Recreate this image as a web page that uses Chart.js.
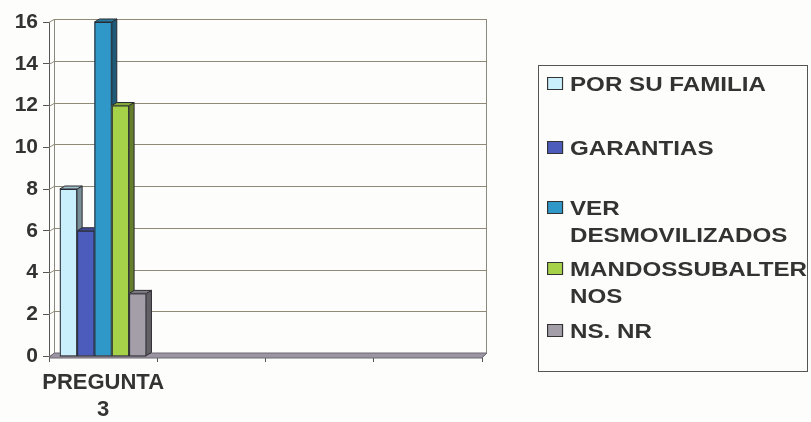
<!DOCTYPE html>
<html><head><meta charset="utf-8">
<script src="https://cdn.jsdelivr.net/npm/chart.js@4"></script>
<style>
html,body{margin:0;padding:0;background:#fdfdfb;}
#wrap{position:relative;width:811px;height:422px;overflow:hidden;}
#chart{position:absolute;left:0;top:0;}
#legend{position:absolute;left:538px;top:65px;width:270px;height:307px;border:1px solid #555;box-sizing:border-box;font:bold 21px "Liberation Sans",Arial,sans-serif;color:#333;}
.item{position:absolute;left:8px;transform:scaleX(1.15);transform-origin:0 0;white-space:pre;line-height:27px;}
.mk{position:absolute;left:0;top:7px;width:12px;height:11px;border:1px solid #333;}
.tx{position:absolute;left:20px;top:0;}
</style>
</head><body>
<div id="wrap">
<canvas id="chart" width="811" height="422"></canvas>
<div id="legend"></div>
</div>
<script>
const categories = ['PREGUNTA 3', '', '', ''];
const seriesNames = ['POR SU FAMILIA', 'GARANTIAS', 'VER\nDESMOVILIZADOS', 'MANDOSSUBALTER\nNOS', 'NS. NR'];
const porSuFamilia = [8, null, null, null];
const garantias = [6, null, null, null];
const verDesmovilizados = [16, null, null, null];
const mandosSubalternos = [12, null, null, null];
const nsNr = [3, null, null, null];
const yTickValues = [0, 2, 4, 6, 8, 10, 12, 14, 16];

const seriesValues = [porSuFamilia, garantias, verDesmovilizados, mandosSubalternos, nsNr];
const seriesColors = ['#c8effb', '#4b5cbc', '#2f98c8', '#a6d24a', '#a39ea8'];
const legendTops = [4, 68, 128, 189, 251];

// legend
const lg = document.getElementById('legend');
seriesNames.forEach((n, i) => {
  const d = document.createElement('div');
  d.className = 'item';
  d.style.top = legendTops[i] + 'px';
  const m = document.createElement('span');
  m.className = 'mk'; m.style.background = seriesColors[i];
  const t = document.createElement('span');
  t.className = 'tx'; t.textContent = n;
  d.appendChild(m); d.appendChild(t);
  lg.appendChild(d);
});

function shade(hex, f) {
  const n = parseInt(hex.slice(1), 16);
  const r = Math.round(((n >> 16) & 255) * f), g = Math.round(((n >> 8) & 255) * f), b = Math.round((n & 255) * f);
  return `rgb(${r},${g},${b})`;
}
const DX = 5, DY = 3;
const FONT = {family: '"Liberation Sans", Arial, sans-serif', size: 21, weight: 'bold'};
const XFONT = {family: '"Liberation Sans", Arial, sans-serif', size: 22, weight: 'bold'};

const threeD = {
  id: 'threeD',
  beforeDatasetsDraw(chart) {
    const ctx = chart.ctx, ca = chart.chartArea, y = chart.scales.y;
    ctx.save();
    ctx.strokeStyle = '#8a8a80'; ctx.lineWidth = 1;
    ctx.beginPath();
    ctx.moveTo(ca.left + DX + 0.5, ca.bottom - DY);
    ctx.lineTo(ca.left + DX + 0.5, ca.top - DY);
    ctx.moveTo(ca.right + DX - 0.5, ca.bottom - DY);
    ctx.lineTo(ca.right + DX - 0.5, ca.top - DY);
    ctx.stroke();
    ctx.strokeStyle = '#8f8a78';
    yTickValues.forEach(v => {
      const py = Math.round(y.getPixelForValue(v)) + 0.5;
      ctx.beginPath();
      ctx.moveTo(ca.left, py);
      ctx.lineTo(ca.left + DX, py - DY);
      ctx.lineTo(ca.right + DX, py - DY);
      ctx.stroke();
    });
    const b = y.getPixelForValue(0);
    ctx.fillStyle = '#9b95a3';
    ctx.strokeStyle = '#6e6874';
    ctx.beginPath();
    ctx.moveTo(ca.left, b + 2);
    ctx.lineTo(ca.right, b + 2);
    ctx.lineTo(ca.right + DX, b - DY);
    ctx.lineTo(ca.left + DX, b - DY);
    ctx.closePath();
    ctx.fill(); ctx.stroke();
    ctx.restore();
  },
  afterDatasetsDraw(chart) {
    const ctx = chart.ctx;
    ctx.save();
    ctx.lineWidth = 1;
    chart.data.datasets.forEach((ds, i) => {
      const meta = chart.getDatasetMeta(i);
      meta.data.forEach((el, j) => {
        if (ds.data[j] == null) return;
        const p = el.getProps(['x', 'y', 'base', 'width'], true);
        const l = p.x - p.width / 2, r = p.x + p.width / 2, t = p.y, bt = p.base;
        const c = seriesColors[i];
        ctx.strokeStyle = '#2a2a30';
        ctx.fillStyle = shade(c, 0.6);
        ctx.beginPath();
        ctx.moveTo(r, bt); ctx.lineTo(r + DX, bt - DY); ctx.lineTo(r + DX, t - DY); ctx.lineTo(r, t); ctx.closePath();
        ctx.fill(); ctx.stroke();
        ctx.fillStyle = shade(c, 0.8);
        ctx.beginPath();
        ctx.moveTo(l, t); ctx.lineTo(l + DX, t - DY); ctx.lineTo(r + DX, t - DY); ctx.lineTo(r, t); ctx.closePath();
        ctx.fill(); ctx.stroke();
        ctx.fillStyle = c;
        ctx.fillRect(l, t, r - l, bt - t);
        ctx.strokeRect(l + 0.5, t + 0.5, r - l - 1, bt - t);
      });
    });
    ctx.restore();
  }
};

const chart = new Chart(document.getElementById('chart'), {
  type: 'bar',
  data: {
    labels: categories,
    datasets: seriesNames.map((n, i) => ({
      label: n,
      data: seriesValues[i],
      backgroundColor: seriesColors[i],
      borderColor: '#2a2a30',
      borderWidth: 1,
      borderSkipped: false,
      barPercentage: 1,
      categoryPercentage: 0.8
    }))
  },
  options: {
    responsive: false,
    animation: false,
    events: [],
    layout: {padding: {top: 22, right: 329, left: 1, bottom: 0}},
    plugins: {legend: {display: false}, tooltip: {enabled: false}},
    scales: {
      x: {
        grid: {drawOnChartArea: false, offset: true, tickLength: 6, color: '#555'},
        border: {display: false},
        ticks: {
          font: XFONT, color: '#333', padding: 8, maxRotation: 0, autoSkip: false,
          callback: (v, i) => categories[i] ? categories[i].split(' ') : ''
        },
        afterFit: s => { s.height = 66; }
      },
      y: {
        min: 0, max: 16,
        ticks: {stepSize: 2, font: FONT, color: '#333', padding: 5},
        grid: {drawOnChartArea: false, tickLength: 6, color: '#555'},
        border: {color: '#555', width: 1},
        afterFit: s => { s.width = 48; }
      }
    }
  },
  plugins: [threeD]
});
</script>
</body></html>
